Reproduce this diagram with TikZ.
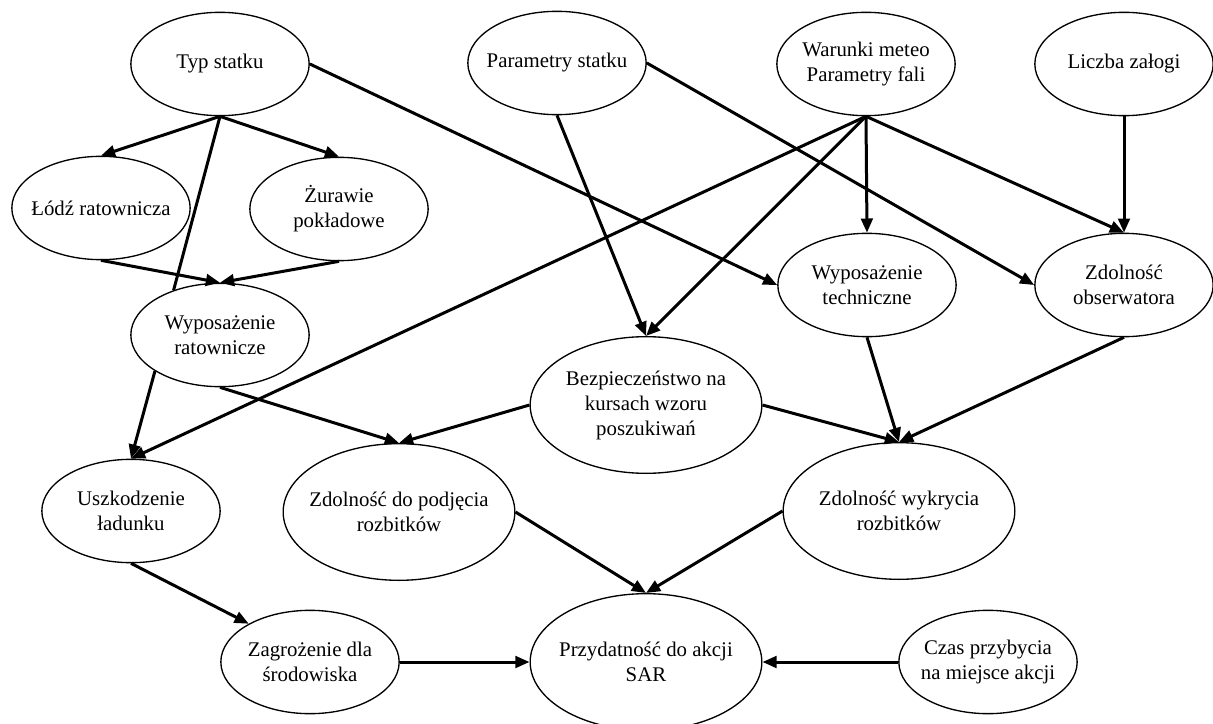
\documentclass[tikz,border=0pt]{standalone}
\usepackage{fontspec}
\setmainfont{Liberation Serif}
\usetikzlibrary{arrows.meta,shapes.geometric}

\begin{document}
\begin{tikzpicture}[x=0.6pt, y=-0.6pt,
    every node/.style={draw, ellipse, line width=0.8pt, align=center, inner xsep=-15pt, inner ysep=0pt,
        minimum width=107pt, minimum height=62pt, font=\fontsize{12.5}{15}\selectfont},
    big/.style={minimum width=139pt, minimum height=82pt},
    conn/.style={line width=1.8pt, -{Triangle[length=8.5pt,width=7pt]}}]
    \useasboundingbox (0,0) rectangle (1213,724);

    % top row
    \node (typ) at (220,64) {Typ statku};
    \node (param) at (557,63) {Parametry statku};
    \node (meteo) at (866,64) {Warunki meteo\\Parametry fali};
    \node (zaloga) at (1124,64) {Liczba załogi};

    % second row
    \node (lodz) at (101,208) {Łódź ratownicza};
    \node (zuraw) at (339,209) {Żurawie\\pokładowe};
    \node (wypr) at (220,335) {Wyposażenie\\ratownicze};
    \node (wypt) at (867,285) {Wyposażenie\\techniczne};
    \node (obs) at (1124,285) {Zdolność\\obserwatora};
    \node[big] (bezp) at (646,405) {Bezpieczeństwo na\\kursach wzoru\\poszukiwań};

    % third row
    \node (uszk) at (131,511) {Uszkodzenie\\ładunku};
    \node[big] (podj) at (399,512) {Zdolność do podjęcia\\rozbitków};
    \node[big] (wykr) at (899,511) {Zdolność wykrycia\\rozbitków};

    % bottom row
    \node (zagr) at (310,662) {Zagrożenie dla\\środowiska};
    \node[big] (sar) at (646,662) {Przydatność do akcji\\SAR};
    \node (czas) at (988,662) {Czas przybycia\\na miejsce akcji};

    \draw[conn] (typ.south) -- (lodz.north);
    \draw[conn] (typ.south) -- (zuraw.north);
    \draw[line width=1.8pt] (typ.south) -- (wypr.136);
    \draw[conn] (typ.east) -- (wypt.west);
    \draw[conn] (param.south) -- (bezp.north);
    \draw[conn] (param.east) -- (obs.west);
    \draw[conn] (meteo.south) -- (wypt.north);
    \draw[conn] (meteo.south) -- (obs.north);
    \draw[conn] (meteo.south) -- (bezp.north);
    \draw[conn] (meteo.south) -- (uszk.north);
    \draw[conn] (zaloga.south) -- (obs.north);
    \draw[conn] (lodz.south) -- (wypr.north);
    \draw[conn] (zuraw.south) -- (wypr.north);
    \draw[conn] (wypr.209) -- (uszk.north);
    \draw[conn] (wypr.south) -- (podj.north);
    \draw[conn] (bezp.west) -- (podj.north);
    \draw[conn] (bezp.east) -- (wykr.north);
    \draw[conn] (wypt.south) -- (wykr.north);
    \draw[conn] (obs.south) -- (wykr.north);
    \draw[conn] (uszk.south) -- (zagr.148);
    \draw[conn] (podj.east) -- (sar.north);
    \draw[conn] (wykr.west) -- (sar.north);
    \draw[conn] (zagr.east) -- (sar.west);
    \draw[conn] (czas.west) -- (sar.east);
\end{tikzpicture}
\end{document}
